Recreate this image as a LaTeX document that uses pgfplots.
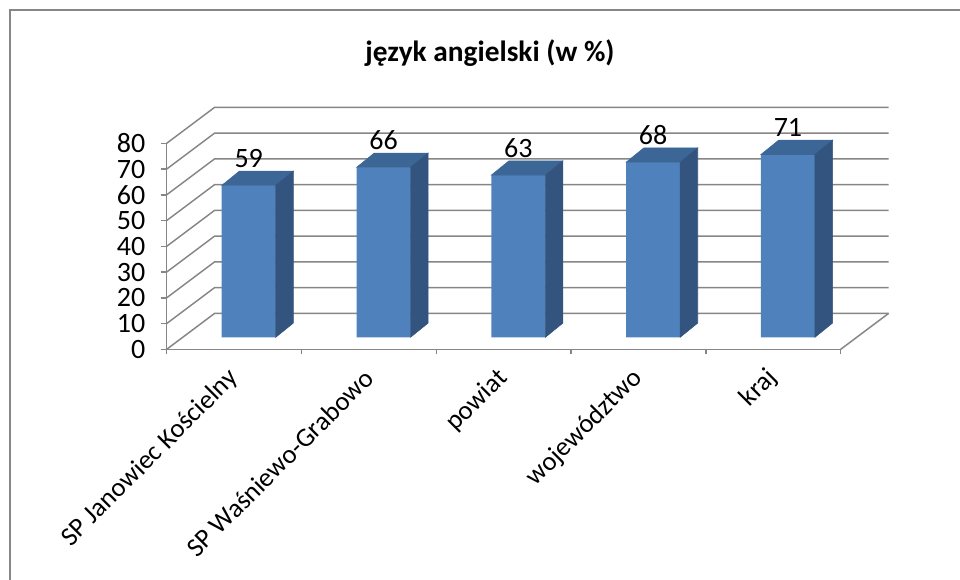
\documentclass[border=0pt]{standalone}
\usepackage{fontspec}
\setmainfont{Carlito}
\usepackage{pgfplots}
\usepackage{pgfplotstable}
\pgfplotsset{compat=1.18}

\definecolor{gridc}{HTML}{868686}
\definecolor{frontf}{HTML}{4F81BD}
\definecolor{topf}{HTML}{3C6696}
\definecolor{sidef}{HTML}{32547E}

\pgfdeclareplotmark{nothing}{}

% wyniki (w %)
\pgfplotstableread{
x   v
0.5 59
1.5 66
2.5 63
3.5 68
4.5 71
}\wyniki

\begin{document}
\begin{tikzpicture}
\useasboundingbox (0,0) rectangle (720pt,-435pt);
\clip (0,0) rectangle (720pt,-435pt);
\draw[gridc, line width=1.5pt] (7.5pt,-7.5pt) rectangle (760pt,-480pt);
\node[font=\fontsize{22}{26}\selectfont\bfseries, anchor=base] at (367.5pt,-46.5pt) {język angielski (w \%)};

\begin{axis}[
    at={(125pt,-262pt)}, anchor=south west,
    x=101.1pt, y=1.93125pt,
    xmin=0, xmax=5, ymin=0, ymax=80,
    clip=false,
    axis lines*=left,
    axis line style={gridc, line width=1.1pt},
    tick align=outside,
    major tick length=4.5pt,
    minor tick length=3.75pt,
    ytick={0,10,...,80},
    ytick style={gridc, line width=1.1pt},
    xtick={0.5,1.5,2.5,3.5,4.5},
    xticklabels={SP Janowiec Kościelny, SP Waśniewo-Grabowo, powiat, województwo, kraj},
    major x tick style={draw=none},
    minor xtick={0,1,2,3,4,5},
    minor x tick style={gridc, line width=1.1pt},
    yticklabel style={font=\fontsize{21}{25}\selectfont},
    yticklabel shift=8pt,
    xticklabel style={font=\fontsize{20}{24}\selectfont, rotate=45, anchor=east, inner sep=0pt},
    xticklabel shift=14pt,
    /pgf/number format/assume math mode=true,
]
\pgfplotsinvokeforeach{0,10,...,80}{
  \draw[gridc, line width=1.1pt] (axis cs:0,#1) -- ([shift={(36pt,27pt)}]axis cs:0,#1) -- ([shift={(36pt,27pt)}]axis cs:5,#1);
}
\draw[gridc, line width=1.1pt] (axis cs:5,0) -- ([shift={(36pt,27pt)}]axis cs:5,0);

% przednie sciany slupkow
\addplot[ybar, bar width=40.5pt, fill=frontf, draw=none, xshift=11pt, yshift=9pt,
  nodes near coords,
  nodes near coords style={font=\fontsize{21}{25}\selectfont, anchor=center, yshift=20.25pt, text=black},
] table[x=x, y=v] {\wyniki};

% gorne i boczne sciany
\addplot[scatter, only marks, mark=nothing, xshift=11pt, yshift=9pt,
  visualization depends on={rawy \as \ry},
  scatter/@pre marker code/.code={%
    \pgfmathsetmacro\hh{-\ry*1.93125}%
    \pgfmathsetmacro\hb{10.7-\ry*1.93125}%
    \fill[topf] (-20.25pt,0pt) -- (20.25pt,0pt) -- (33.45pt,10.7pt) -- (-7.05pt,10.7pt) -- cycle;
    \fill[sidef] (20.25pt,0pt) -- (33.45pt,10.7pt) -- (33.45pt,\hb pt) -- (20.25pt,\hh pt) -- cycle;
  },
  scatter/@post marker code/.code={},
] table[x=x, y=v] {\wyniki};
\end{axis}
\end{tikzpicture}
\end{document}
